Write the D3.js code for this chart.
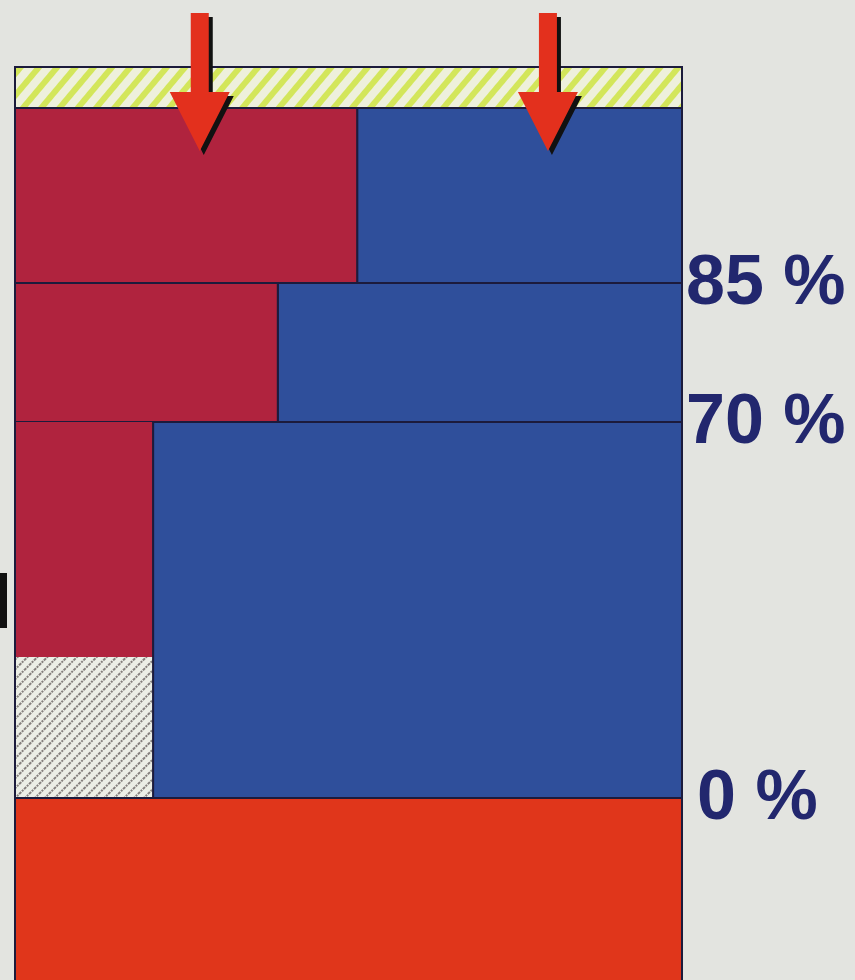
<!DOCTYPE html>
<html>
<head>
<meta charset="utf-8">
<script src="https://cdn.jsdelivr.net/npm/d3@7"></script>
<style>
body { margin: 0; background: #e3e4e0; }
svg { display: block; }
</style>
</head>
<body>
<div id="chart-area"></div>
<script>
// layers from top to bottom, thickness in arbitrary units
var layers = ["cap", "row1", "row2", "row3", "base"];
var thickness = [4.1, 17.5, 13.9, 37.6, 19.0];
// share (%) of each row taken by the red part
var redShare = [null, 51.3, 39.4, 20.7, null];
// part of row3's red column that is hatched (from the bottom, in units)
var hatchDepth = 14.1;
var labels = ["85 %", "70 %", "0 %"];
var labelAt = [1, 2, 3]; // label sits at bottom of these layers
var arrowsAt = [27.7, 79.9]; // share position of arrows

var svg = d3.select("#chart-area").append("svg")
	.attr("width", 855)
	.attr("height", 980);

var defs = svg.append("defs");
var p1 = defs.append("pattern")
	.attr("id", "capHatch")
	.attr("patternUnits", "userSpaceOnUse")
	.attr("width", 14).attr("height", 14)
	.attr("patternTransform", "rotate(40)");
p1.append("rect").attr("width", 14).attr("height", 14).attr("fill", "#eef0dc");
p1.append("rect").attr("width", 6).attr("height", 14).attr("fill", "#d3e65a");

var p2 = defs.append("pattern")
	.attr("id", "grayHatch")
	.attr("patternUnits", "userSpaceOnUse")
	.attr("width", 7).attr("height", 7)
	.attr("patternTransform", "rotate(45)");
p2.append("rect").attr("width", 7).attr("height", 7).attr("fill", "#eceee6");
p2.append("line").attr("x1", 1).attr("y1", 0).attr("x2", 1).attr("y2", 7)
	.attr("stroke", "#7a7472").attr("stroke-width", 1.8).attr("stroke-dasharray", "2,1");

var tops = [0];
for (let i = 0; i < thickness.length; i++)
{
	tops.push(tops[i] + thickness[i]);
}

var y = d3.scaleLinear()
	.domain([0, d3.sum(thickness)])
	.range([67, 67 + d3.sum(thickness) * 10]);

var x = d3.scaleLinear()
	.domain([0, 100])
	.range([15, 682]);

var stroke = "#1c1b3c";

// cap
svg.append("rect")
	.attr("x", x(0)).attr("y", y(tops[0]))
	.attr("width", x(100) - x(0)).attr("height", y(tops[1]) - y(tops[0]))
	.attr("fill", "url(#capHatch)")
	.attr("stroke", stroke).attr("stroke-width", 2);

// rows with red + blue
for (let i = 1; i <= 3; i++)
{
	svg.append("rect")
		.attr("x", x(redShare[i])).attr("y", y(tops[i]))
		.attr("width", x(100) - x(redShare[i])).attr("height", y(tops[i + 1]) - y(tops[i]))
		.attr("fill", "#2f4f9b")
		.attr("stroke", stroke).attr("stroke-width", 2);
	var redBottom = i == 3 ? tops[i + 1] - hatchDepth : tops[i + 1];
	svg.append("rect")
		.attr("x", x(0)).attr("y", y(tops[i]))
		.attr("width", x(redShare[i]) - x(0)).attr("height", y(redBottom) - y(tops[i]))
		.attr("fill", "#b0233e")
		.attr("stroke", i == 3 ? "none" : stroke).attr("stroke-width", 2);
	if (i == 3)
	{
		svg.append("rect")
			.attr("x", x(0)).attr("y", y(redBottom))
			.attr("width", x(redShare[i]) - x(0)).attr("height", y(tops[i + 1]) - y(redBottom))
			.attr("fill", "url(#grayHatch)");
		svg.append("path")
			.attr("d", "M" + x(0) + "," + y(tops[i]) + "V" + y(tops[i + 1]) + "H" + x(redShare[i]) + "V" + y(tops[i]))
			.attr("fill", "none").attr("stroke", stroke).attr("stroke-width", 2);
	}
}

// base
svg.append("rect")
	.attr("x", x(0)).attr("y", y(tops[4]))
	.attr("width", x(100) - x(0)).attr("height", y(tops[5]) - y(tops[4]))
	.attr("fill", "#e0361b")
	.attr("stroke", stroke).attr("stroke-width", 2);

// labels
svg.selectAll(".lbl")
	.data(labels)
	.enter().append("text")
	.attr("class", "lbl")
	.attr("x", (d, i) => i == 2 ? x(100) + 15 : x(100) + 4)
	.attr("y", (d, i) => y(tops[labelAt[i] + 1]) + 21)
	.attr("font-family", "Liberation Sans, Arial, sans-serif")
	.attr("font-weight", "bold")
	.attr("font-size", 70)
	.attr("fill", "#22276e")
	.text(d => d);

// arrows
function arrowPath(cx)
{
	return "M" + (cx - 9) + ",13 L" + (cx + 9) + ",13 L" + (cx + 9) + ",92 L" + (cx + 30) + ",92 L" + cx + ",151 L" + (cx - 30) + ",92 L" + (cx - 9) + ",92 Z";
}
arrowsAt.forEach(a => {
	var cx = x(a);
	svg.append("path").attr("d", arrowPath(cx + 4)).attr("transform", "translate(0,4)").attr("fill", "#111");
	svg.append("path").attr("d", arrowPath(cx)).attr("fill", "#e3301d");
});

// cut-off mark at the left edge
svg.append("rect")
	.attr("x", 0).attr("y", 573).attr("width", 7).attr("height", 55)
	.attr("fill", "#111");
</script>
</body>
</html>
